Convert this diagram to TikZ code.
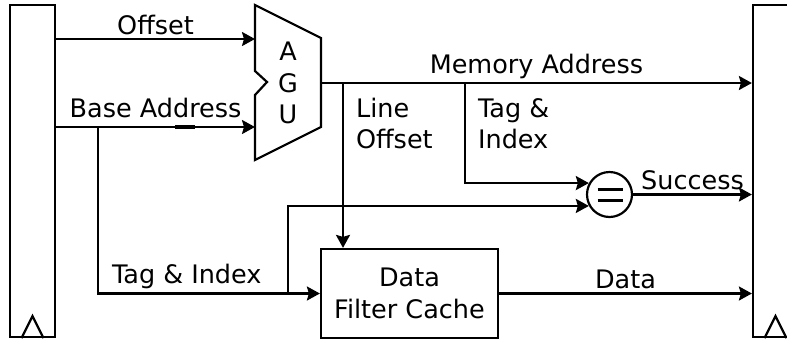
\documentclass[tikz,border=0pt]{standalone}
\usepackage{fontspec}
\setmainfont{DejaVu Sans}
\usetikzlibrary{arrows.meta,calc}

\begin{document}
\begin{tikzpicture}[x=1pt,y=-1pt,line width=2.2pt,
  every node/.style={font=\fontsize{25.5}{31.5}\selectfont},
  reg/.style={draw,rectangle,minimum width=45,minimum height=332,inner sep=0},
  box/.style={draw,rectangle,minimum width=177,minimum height=89,align=center,inner sep=0},
  wire/.style={-{Stealth[length=13pt,width=14pt,inset=2pt]}},
  note/.style={align=left,inner sep=0,anchor=north west}]
\clip (0,0) rectangle (787,341);
% pipeline registers
\foreach \name/\xpos in {lreg/32.5,rreg/775.5}
{ \node[reg] (\name) at (\xpos,171) {};
  \draw ($(\name.south)+(-11,0)$) -- ++(11,-22) -- ++(11,22);}
% AGU
\draw (255,5) -- (321,38) -- (321,127) -- (255,160) -- (255,95) -- (267,82) -- (255,71) -- cycle;
\node[align=center] (agu) at (288,83) {A\\G\\U};
\coordinate (agu-a) at (255,39);
\coordinate (agu-b) at (255,127);
\coordinate (agu-out) at (321,83);
\node[box] (dfc) at (409.5,293.5) {Data\\Filter Cache};
\node[draw,circle,minimum size=45,inner sep=0] (eq) at (609.5,194.5) {};
\draw[line width=3pt] ($(eq)+(-12,-5.5)$) -- ++(25,0) ($(eq)+(-12,5.5)$) -- ++(25,0);
% inputs
\draw[wire] (lreg.east |- agu-a) -- node[above]{Offset} (agu-a);
\draw[wire] (lreg.east |- agu-b) -- node[above=5pt]{Base Address} (agu-b);
\draw[line width=3.5pt] (175,127) -- (195,127);
\coordinate (ba) at (98,127);
\draw[wire] (ba) |- node[above,pos=0.7]{Tag \& Index} (dfc.west);
\coordinate (ti) at (288,293);
\draw[wire] (ti) |- (eq.209);
% address
\draw[wire] (agu-out) -- node[above]{Memory Address} (rreg.west |- agu-out);
\coordinate (lo) at (343,83);
\draw[wire] (lo) -- (lo |- dfc.north);
\node[note] (lolbl) at (355,97) {Line\\Offset};
\coordinate (mi) at (465,83);
\draw[wire] (mi) |- (eq.151);
\node[note] (milbl) at (477,97) {Tag \&\\Index};
% outputs
\draw[wire] (eq.east) -- node[above]{Success} (rreg.west |- eq.east);
\draw[wire] (dfc.east) -- node[above]{Data} (rreg.west |- dfc.east);
\end{tikzpicture}
\end{document}
